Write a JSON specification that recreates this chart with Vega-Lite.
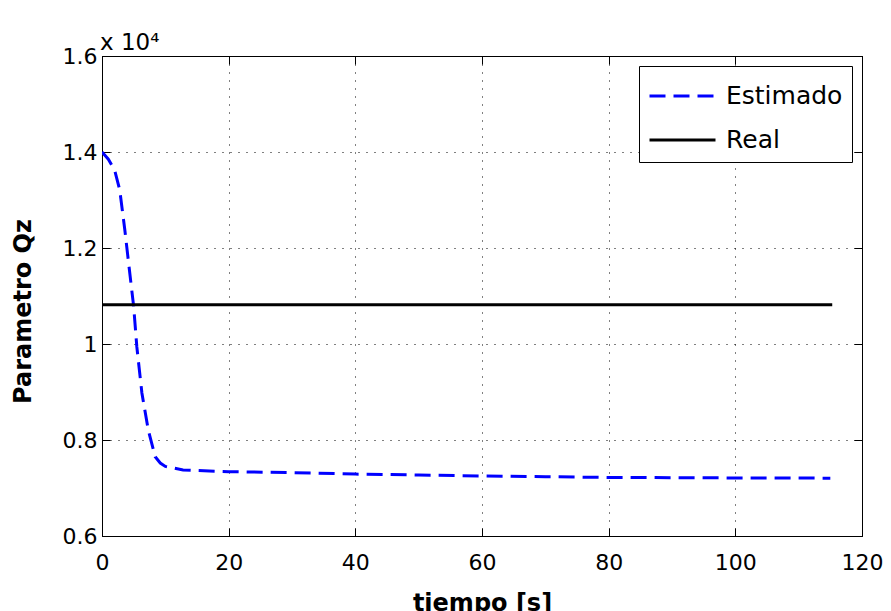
{
  "$schema": "https://vega.github.io/schema/vega-lite/v6.json",
  "width": 760,
  "height": 480,
  "autosize": "none",
  "padding": {"left": 102, "top": 56, "right": 29, "bottom": 75},
  "background": "white",
  "title": {
    "text": "x 10⁴",
    "anchor": "start",
    "frame": "group",
    "orient": "top",
    "baseline": "alphabetic",
    "offset": 9,
    "dx": -2,
    "dy": 37,
    "font": "DejaVu Sans",
    "fontSize": 23,
    "fontWeight": "normal",
    "color": "black"
  },
  "config": {
    "view": {"stroke": "black", "strokeWidth": 1},
    "axis": {
      "domainColor": "black",
      "domainWidth": 1,
      "tickColor": "black",
      "tickWidth": 1,
      "labelFont": "DejaVu Sans",
      "labelFontSize": 22,
      "labelColor": "black",
      "labelFlush": false,
      "titleFont": "DejaVu Sans",
      "titleFontSize": 24,
      "titleFontWeight": "bold",
      "titleColor": "black",
      "gridColor": "black",
      "gridDash": [1, 7],
      "gridWidth": 1,
      "gridOpacity": 1
    },
    "legend": {
      "orient": "none",
      "legendX": 537,
      "legendY": 10,
      "strokeColor": "black",
      "fillColor": "white",
      "padding": 9,
      "labelFont": "DejaVu Sans",
      "labelFontSize": 25,
      "labelColor": "black",
      "symbolType": "stroke",
      "symbolSize": 4356,
      "symbolStrokeWidth": 3,
      "clipHeight": 24,
      "rowPadding": 19,
      "labelOffset": 9,
      "titleFontSize": 1,
      "titlePadding": 8
    }
  },
  "datasets": {
    "estimado": [
      {"t": 0, "q": 14000, "serie": "Estimado"},
      {"t": 1, "q": 13850, "serie": "Estimado"},
      {"t": 2, "q": 13620, "serie": "Estimado"},
      {"t": 2.8, "q": 13210, "serie": "Estimado"},
      {"t": 3.6, "q": 12380, "serie": "Estimado"},
      {"t": 4.2, "q": 11690, "serie": "Estimado"},
      {"t": 5, "q": 10780, "serie": "Estimado"},
      {"t": 5.5, "q": 9940, "serie": "Estimado"},
      {"t": 6.3, "q": 8980, "serie": "Estimado"},
      {"t": 7.3, "q": 8210, "serie": "Estimado"},
      {"t": 8.4, "q": 7650, "serie": "Estimado"},
      {"t": 9.2, "q": 7520, "serie": "Estimado"},
      {"t": 10, "q": 7450, "serie": "Estimado"},
      {"t": 12.8, "q": 7375, "serie": "Estimado"},
      {"t": 20, "q": 7340, "serie": "Estimado"},
      {"t": 30, "q": 7320, "serie": "Estimado"},
      {"t": 40, "q": 7290, "serie": "Estimado"},
      {"t": 50, "q": 7270, "serie": "Estimado"},
      {"t": 60, "q": 7250, "serie": "Estimado"},
      {"t": 70, "q": 7235, "serie": "Estimado"},
      {"t": 80, "q": 7220, "serie": "Estimado"},
      {"t": 90, "q": 7215, "serie": "Estimado"},
      {"t": 100, "q": 7210, "serie": "Estimado"},
      {"t": 115, "q": 7205, "serie": "Estimado"}
    ],
    "real": [
      {"t": 0, "q": 10820, "serie": "Real"},
      {"t": 115.3, "q": 10820, "serie": "Real"}
    ]
  },
  "encoding": {
    "x": {"field": "t", "type": "quantitative"},
    "y": {"field": "q", "type": "quantitative"},
    "color": {
      "field": "serie",
      "type": "nominal",
      "scale": {"domain": ["Estimado", "Real"], "range": ["#0000ff", "#000000"]},
      "legend": {"title": " "}
    },
    "strokeDash": {
      "field": "serie",
      "type": "nominal",
      "scale": {"domain": ["Estimado", "Real"], "range": [[16, 8], [1, 0]]},
      "legend": {"title": " "}
    }
  },
  "layer": [
    {
      "data": {"name": "estimado"},
      "mark": {"type": "line", "strokeWidth": 3, "strokeCap": "butt", "clip": true},
      "encoding": {
        "x": {
          "field": "t",
          "type": "quantitative",
          "scale": {"domain": [0, 120], "nice": false, "zero": false},
          "axis": {
            "orient": "bottom",
            "title": "tiempo [s]",
            "values": [0, 20, 40, 60, 80, 100, 120],
            "grid": true,
            "tickSize": -8,
            "labelPadding": 24,
            "titleBaseline": "alphabetic",
            "titleY": 74
          }
        },
        "y": {
          "field": "q",
          "type": "quantitative",
          "scale": {"domain": [6000, 16000], "nice": false, "zero": false},
          "axis": {
            "orient": "left",
            "title": "Parametro Qz",
            "values": [6000, 8000, 10000, 12000, 14000, 16000],
            "labelExpr": "format(datum.value / 10000, '~g')",
            "grid": true,
            "tickSize": -8,
            "labelPadding": 13,
            "titleBaseline": "alphabetic",
            "titleX": -72,
            "titleY": 255
          }
        }
      }
    },
    {
      "data": {"name": "real"},
      "mark": {"type": "line", "strokeWidth": 3, "strokeCap": "butt", "clip": true},
      "encoding": {
        "x": {
          "field": "t",
          "type": "quantitative",
          "scale": {"domain": [0, 120], "nice": false, "zero": false},
          "axis": {
            "orient": "top",
            "title": null,
            "values": [0, 20, 40, 60, 80, 100, 120],
            "labels": false,
            "grid": false,
            "tickSize": -8
          }
        },
        "y": {
          "field": "q",
          "type": "quantitative",
          "scale": {"domain": [6000, 16000], "nice": false, "zero": false},
          "axis": {
            "orient": "right",
            "title": null,
            "values": [6000, 8000, 10000, 12000, 14000, 16000],
            "labels": false,
            "grid": false,
            "tickSize": -8
          }
        }
      }
    }
  ],
  "resolve": {"axis": {"x": "independent", "y": "independent"}}
}
